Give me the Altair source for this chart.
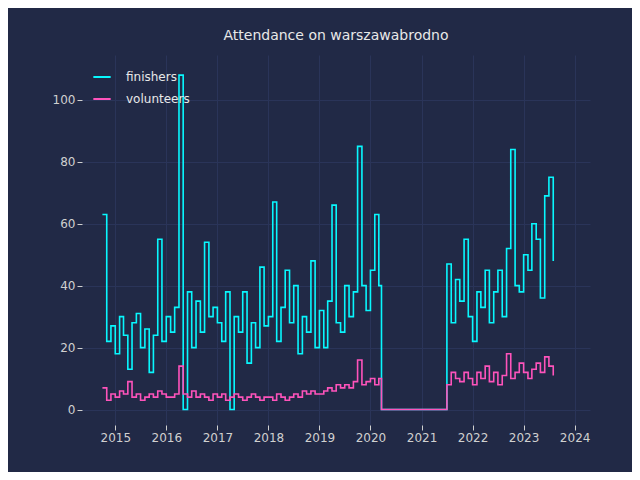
import altair as alt
import pandas as pd

# monthly readings, Oct 2014 .. Mar 2020
finishers_a = [63, 22, 27,
               18, 30, 24, 13, 28, 31, 20, 26, 12, 24, 55, 22,
               30, 25, 33, 108, 0, 38, 20, 35, 25, 54, 30, 33,
               28, 22, 38, 0, 30, 25, 38, 15, 28, 20, 46, 27,
               30, 67, 22, 33, 45, 28, 40, 18, 30, 25, 48, 20,
               32, 20, 35, 66, 28, 25, 40, 30, 38, 85, 40, 32,
               45, 63, 40]
volunteers_a = [7, 3, 5,
                4, 6, 5, 9, 4, 5, 3, 4, 5, 4, 6, 5,
                4, 4, 5, 14, 5, 4, 6, 4, 5, 4, 3, 5,
                4, 5, 3, 4, 5, 4, 3, 4, 5, 4, 3, 4,
                4, 3, 5, 4, 3, 4, 5, 4, 6, 5, 6, 5,
                5, 6, 7, 6, 8, 7, 8, 7, 9, 16, 8, 9,
                10, 8, 10]
# monthly readings, Jul 2021 .. Aug 2023
finishers_b = [47, 28, 42, 35, 55, 30,
               22, 38, 33, 45, 28, 38, 45, 30, 52, 84, 40, 38,
               50, 45, 60, 55, 36, 69, 75, 48]
volunteers_b = [8, 12, 10, 9, 12, 10,
                8, 12, 10, 14, 9, 12, 8, 11, 18, 10, 12, 15,
                12, 10, 13, 15, 12, 17, 14, 11]

dates_a = list(pd.date_range('2014-10-01', periods=len(finishers_a), freq='MS'))
dates_b = list(pd.date_range('2021-07-01', periods=len(finishers_b), freq='MS'))
gap_dates = [pd.Timestamp('2020-03-20'), pd.Timestamp('2021-06-25')]

dates = dates_a + gap_dates + dates_b
fin = finishers_a + [0, 0] + finishers_b
vol = volunteers_a + [0, 0] + volunteers_b

df = pd.concat([
    pd.DataFrame({'date': dates, 'value': fin, 'series': 'finishers'}),
    pd.DataFrame({'date': dates, 'value': vol, 'series': 'volunteers'}),
])

chart = alt.Chart(df).mark_line(interpolate='step-after', strokeWidth=1.6).encode(
    x=alt.X('date:T', title=None,
            scale=alt.Scale(domain=['2014-05-08', '2024-04-20']),
            axis=alt.Axis(format='%Y', tickCount={'interval': 'year', 'step': 1})),
    y=alt.Y('value:Q', title=None, scale=alt.Scale(domain=[-5, 114.5], nice=False),
            axis=alt.Axis(values=[0, 20, 40, 60, 80, 100])),
    color=alt.Color('series:N', title=None,
                    scale=alt.Scale(domain=['finishers', 'volunteers'],
                                    range=['#08F7FE', '#FE53BB']),
                    legend=alt.Legend(orient='none', legendX=10, legendY=12,
                                      symbolType='stroke', symbolStrokeWidth=2,
                                      symbolSize=300, labelFontSize=12,
                                      labelOffset=14, labelColor='#e8e8e8',
                                      rowPadding=6))
).properties(
    width=508, height=370,
    title=alt.Title('Attendance on warszawabrodno', fontSize=14,
                    fontWeight='normal', color='#e8e8e8', offset=12,
                    font='DejaVu Sans'),
    autosize=alt.AutoSizeParams(type='none'),
    padding={'left': 74, 'top': 47, 'right': 42, 'bottom': 47},
    background='#212946'
).configure(font='DejaVu Sans').configure_view(stroke=None).configure_axis(
    grid=True, gridColor='#2A3459', gridOpacity=1, domain=False,
    tickColor='#d0d0d0', labelColor='#d0d0d0', labelFontSize=12,
    labelFont='DejaVu Sans'
).configure_legend(labelFont='DejaVu Sans')

chart.save("out.html", embed_options={"renderer": "svg", "actions": False})
